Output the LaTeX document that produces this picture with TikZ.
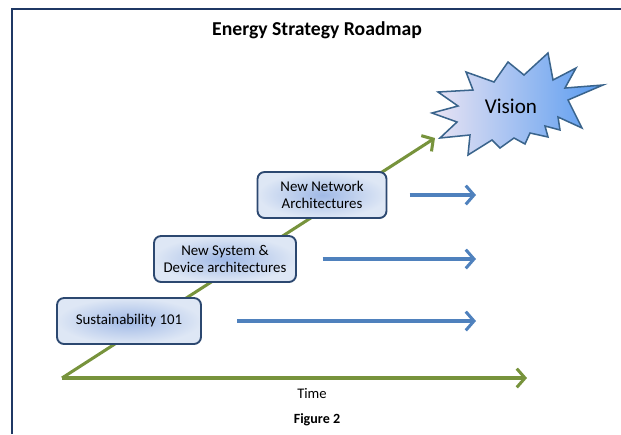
\documentclass[tikz,border=0pt]{standalone}
\usepackage{fontspec}
\setmainfont{Carlito}
\usepackage{xcolor}
\usetikzlibrary{arrows.meta, positioning}
\definecolor{framecol}{RGB}{31,56,100}
\definecolor{pathgreen}{RGB}{119,147,60}
\definecolor{stepblue}{RGB}{79,129,189}
\definecolor{boxedge}{RGB}{44,72,112}
\definecolor{boxin}{RGB}{160,185,230}
\definecolor{boxout}{RGB}{222,231,245}
\definecolor{starleft}{RGB}{234,228,243}
\definecolor{starright}{RGB}{88,155,240}
\definecolor{staredge}{RGB}{58,100,140}
\tikzset{
  every node/.style  = {transform shape},
  stagebox/.style    = {rectangle, draw=boxedge, line width=1.6pt,
                        rounded corners=6pt, shading=radial,
                        inner color=boxin, outer color=boxout,
                        align=center, font=\fontsize{12.7}{15}\selectfont,
                        minimum height=1.38cm},
  timeline/.style    = {draw=pathgreen, line width=2.6pt,
                        -{Straight Barb[length=7pt, width=16pt, line width=2.6pt]}},
  reach/.style       = {draw=stepblue, line width=2.6pt,
                        -{Straight Barb[length=7pt, width=16pt, line width=2.6pt]}}
}

\begin{document}
\begin{tikzpicture}[x=0.03cm, y=-0.03cm]
  \useasboundingbox (0,0) rectangle (621,434);
  % frame along top and left
  \draw[framecol, line width=1.7pt] (12,434) -- (12,9) -- (621,9);

  \node[font=\fontsize{16.8}{20}\selectfont\bfseries] (title) at (317,30) {Energy Strategy Roadmap};

  % vision burst
  \draw[staredge, line width=1.3pt, left color=starleft, right color=starright, line join=miter]
    (432,113) -- (458,106) -- (438,92) -- (473,90) -- (466,72) -- (494,82)
    -- (508,62) -- (524,75) -- (548,53) -- (553,80) -- (576,68) -- (565,88)
    -- (603,85) -- (568,100) -- (582,128) -- (558,117) -- (560,130) -- (545,126)
    -- (548,137) -- (530,133) -- (525,144) -- (514,138) -- (500,148) -- (492,140)
    -- (468,155) -- (470,135) -- (440,138) -- (457,122) -- cycle;
  \node[font=\fontsize{18}{21}\selectfont] (vision) at (511,106) {Vision};

  \coordinate (start) at (62,378);
  \coordinate (peak)  at (435,138);
  \coordinate (later) at (527,378);
  \draw[timeline] (start) -- (peak);
  \draw[timeline] (start) -- (later);

  \node[stagebox, minimum width=4.32cm] (sust) at (129,321) {Sustainability 101};
  \node[stagebox, minimum width=4.26cm] (sysdev) at (225,259) {New System \&\\Device architectures};
  \node[stagebox, minimum width=3.87cm] (network) at (322,195) {New Network\\Architectures};

  \coordinate (goal1) at (476,321);
  \coordinate (goal2) at (476,259);
  \coordinate (goal3) at (476,195);
  \draw[reach, shorten <=30pt] (sust.east) -- (goal1);
  \draw[reach, shorten <=22pt] (sysdev.east) -- (goal2);
  \draw[reach, shorten <=19pt] (network.east) -- (goal3);

  \node[font=\fontsize{12.5}{15}\selectfont] (time) at (312,393) {Time};
  \node[font=\fontsize{12}{14}\selectfont\bfseries] (fig) at (317,420) {Figure 2};
\end{tikzpicture}
\end{document}
